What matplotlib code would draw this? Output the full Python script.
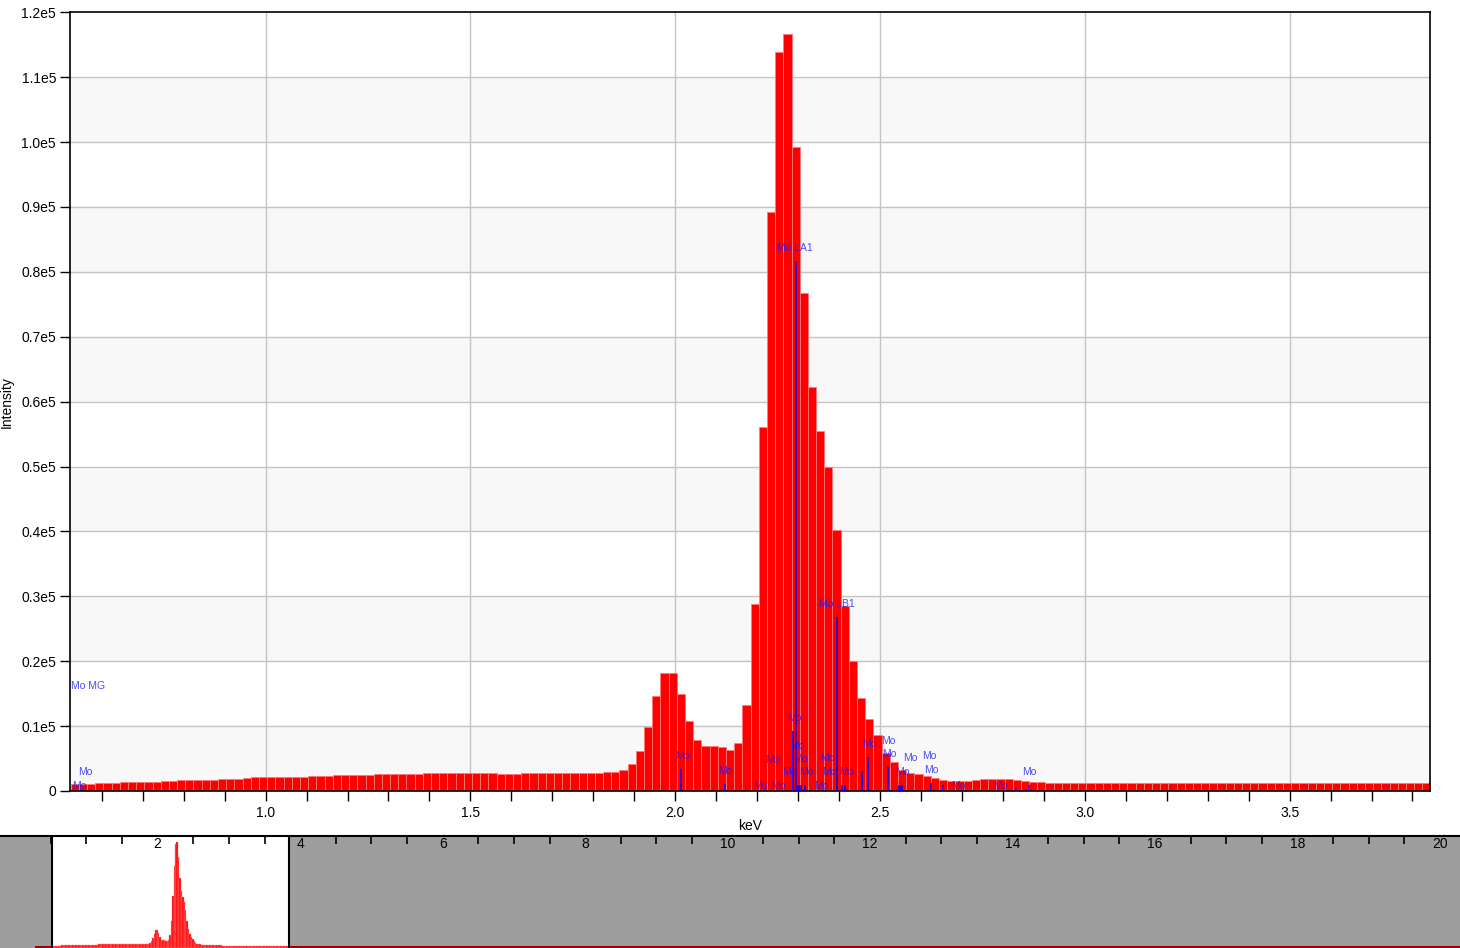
import numpy as np
import matplotlib
matplotlib.use("Agg")
import matplotlib.pyplot as plt
from matplotlib.ticker import FixedLocator, FuncFormatter
import matplotlib.transforms as mtransforms

plt.rcParams['font.family'] = ['Liberation Sans', 'DejaVu Sans']

# ---------------- data ----------------
bin_start = 0.524   # keV, left edge of first bin
bin_width = 0.02    # keV
counts = [
    1030, 1030, 1030, 1180, 1180, 1180, 1335, 1335, 1335, 1335,
    1335, 1540, 1540, 1640, 1640, 1640, 1640, 1640, 1800, 1800,
    1800, 1950, 2100, 2100, 2100, 2100, 2100, 2100, 2100, 2260,
    2260, 2260, 2410, 2410, 2410, 2410, 2410, 2570, 2570, 2570,
    2570, 2570, 2570, 2770, 2770, 2770, 2770, 2770, 2770, 2770,
    2770, 2770, 2570, 2570, 2570, 2770, 2770, 2770, 2770, 2770,
    2770, 2770, 2770, 2720, 2720, 2880, 2880, 3180, 4110, 6110,
    9810, 14590, 18130, 18130, 14900, 10740, 7810, 6880, 6880, 6730,
    6270, 7350, 13200, 28770, 56090, 89260, 113820, 116590, 99180, 76690,
    62250, 55470, 49920, 40220, 28500, 20030, 14280, 11040, 8630, 5810,
    4510, 3240, 2730, 2570, 2360, 2050, 1700, 1480, 1480, 1480,
    1700, 1850, 1850, 1850, 1850, 1700, 1540, 1390, 1390, 1180,
    1180, 1180, 1180, 1180, 1180, 1180, 1180, 1180, 1180, 1180,
    1180, 1180, 1180, 1180, 1180, 1180, 1180, 1180, 1180, 1180,
    1180, 1180, 1180, 1180, 1180, 1180, 1180, 1180, 1180, 1180,
    1180, 1180, 1180, 1180, 1180, 1180, 1180, 1180, 1180, 1180,
    1180, 1180, 1180, 1180, 1180, 1180,
]

# spectrum outside the zoomed window (overview strip only)
low_energy = [0.284, 0.324, 0.364, 0.404, 0.444, 0.484, 0.524]
low_counts = [700, 800, 850, 900, 950, 1000]
tail_energy = [3.844, 4.0, 4.5, 5.0, 6.0, 8.0, 10.0, 12.0, 14.0, 16.0, 18.0, 20.4]
tail_counts = [1150, 1100, 1000, 950, 900, 850, 800, 750, 700, 650, 600]

# Mo marker lines (energy keV, relative height in counts)
line_energy = [2.0154, 2.1204, 2.2888, 2.2947, 2.2995, 2.3032, 2.3069, 2.3174,
               2.3948, 2.4070, 2.4134, 2.4553, 2.4717, 2.5188, 2.5457, 2.5505,
               2.5542, 2.6238, 2.6531, 2.8318, 2.8626]
line_height = [3390, 1080, 9240, 81660, 850, 850, 850, 920,
               26810, 920, 920, 3080, 5240, 3700, 920, 920,
               920, 1230, 920, 620, 920]

# Mo labels
label_text = ["Mo MG", "Mo", "Mo", "Mo LA1", "Mo LB1", "Mo", "Mo", "Mo", "Mo", "Mo",
              "Mo", "Mo", "Mo", "Mo", "Mo", "Mo", "Mo", "Mo", "Mo", "Mo",
              "Mo", "Mo", "Mo", "Mo", "Mo", "Mo", "Mo", "Mo", "Mo"]
label_energy = [0.5669, 0.5596, 0.5449, 2.2934, 2.3955, 2.0164, 2.1221, 2.2083, 2.2515, 2.2361,
                2.2898, 2.2979, 2.3044, 2.2783, 2.3198, 2.3711, 2.3557, 2.3752, 2.4175, 2.4729,
                2.5193, 2.5217, 2.5730, 2.6194, 2.5549, 2.6243, 2.6917, 2.7935, 2.8643]
label_height = [16230, 2970, 817, 83710, 28810, 5440, 3130, 817, 817, 4730,
                11290, 6980, 4930, 2930, 2930, 5130, 817, 2930, 2930, 7290,
                7750, 5750, 5130, 5390, 2970, 3280, 770, 770, 2970]

y_ticks = [0, 10000, 20000, 30000, 40000, 50000, 60000, 70000, 80000, 90000,
           100000, 110000, 120000]
x_label_ticks = [1.0, 1.5, 2.0, 2.5, 3.0, 3.5]

# ---------------- figure ----------------
W, H = 1460, 948
fig = plt.figure(figsize=(W / 100, H / 100), dpi=100)

edges = bin_start + bin_width * np.arange(len(counts))

ax = fig.add_axes([70 / W, 1 - 791 / H, 1360 / W, (791 - 12.3) / H])
ax.set_xlim(0.5225, 3.8428)
ax.set_ylim(0, 120000)

# alternating bands
for k in range(0, 12, 2):
    ax.axhspan(k * 1e4, (k + 1) * 1e4, color='#f8f8f8', zorder=0, lw=0)
for yv in y_ticks[1:-1]:
    ax.axhline(yv, color='#c4c4c4', lw=1, zorder=0.5)
for xv in x_label_ticks:
    ax.axvline(xv, color='#c4c4c4', lw=1, zorder=0.5)

ax.bar(edges, counts, width=bin_width, align='edge', color='#ff0000',
       edgecolor='#ff7a7a', linewidth=0.6, zorder=2)

ax.vlines(line_energy, 0, line_height, colors='#0000ff', lw=1.1, zorder=3)
for t, e, h in zip(label_text, label_energy, label_height):
    ax.text(e, h, t, fontsize=7.5, color='#1a1aff', alpha=0.78,
            ha='center', va='center', zorder=4)

ax.yaxis.set_major_locator(FixedLocator(y_ticks))
ax.yaxis.set_major_formatter(FuncFormatter(
    lambda v, p: '0' if v == 0 else f'{v / 1e5:.1f}e5'))
xt = np.round(np.arange(0.6, 3.85, 0.1), 1)
ax.xaxis.set_major_locator(FixedLocator(xt))
ax.xaxis.set_major_formatter(FuncFormatter(
    lambda v, p: f'{v:.1f}' if any(abs(v - t) < 1e-6 for t in x_label_ticks) else ''))
ax.tick_params(axis='both', direction='out', colors='black', labelsize=10,
               width=1, length=7)
ax.tick_params(axis='x', length=7.5, pad=3)
ax.tick_params(axis='y', pad=3)
for s in ax.spines.values():
    s.set_color('black')
    s.set_linewidth(1.2)

fig.text(750 / W, 1 - 826 / H, 'keV', ha='center', va='center', fontsize=10)
fig.text(7 / W, 1 - 402 / H, 'Intensity', ha='center', va='center',
         rotation=90, fontsize=10)

# ---------------- overview strip ----------------
base = -1500
ax2 = fig.add_axes([0, 0, 1, 112 / H])
x_lo, x_hi = -15.2 / 71.24, (W - 15.2) / 71.24
ax2.set_xlim(x_lo, x_hi)
ax2.set_ylim(base, 123000)
ax2.set_facecolor('white')
ax2.bar(edges, np.array(counts) - base, bottom=base, width=bin_width, align='edge',
        color='#ff0000', edgecolor='#ff8a8a', linewidth=0.25, zorder=2)
ax2.stairs(low_counts, low_energy, baseline=base, fill=True, color='#ff0000', zorder=2)
ax2.stairs(tail_counts, tail_energy, baseline=base, fill=True, color='#ff0000', zorder=2)

win_lo, win_hi = 0.521, 3.848
ax2.axvspan(x_lo, win_lo, color='black', alpha=0.38, lw=0, zorder=5)
ax2.axvspan(win_hi, x_hi, color='black', alpha=0.38, lw=0, zorder=5)
ax2.axvline(win_lo, color='black', lw=1.5, zorder=6)
ax2.axvline(win_hi, color='black', lw=1.5, zorder=6)

ov_ticks = [v for v in np.arange(0, 20.01, 0.5) if abs(v / 2 - round(v / 2)) > 1e-6]
ax2.xaxis.set_ticks_position('top')
ax2.xaxis.set_major_locator(FixedLocator(ov_ticks))
ax2.xaxis.set_major_formatter(FuncFormatter(lambda v, p: ''))
ax2.tick_params(axis='x', direction='in', length=6, width=1.2, colors='black')
ax2.set_yticks([])
trans = mtransforms.blended_transform_factory(ax2.transData, ax2.transAxes)
for k in range(2, 21, 2):
    ax2.text(k, (948 - 844) / 112, str(k), transform=trans, ha='center',
             va='center', fontsize=10, color='black', zorder=7)
for name, s in ax2.spines.items():
    s.set_visible(name == 'top')
ax2.spines['top'].set_linewidth(1.5)
ax2.spines['top'].set_zorder(8)

fig.savefig('out.png', dpi=100)
